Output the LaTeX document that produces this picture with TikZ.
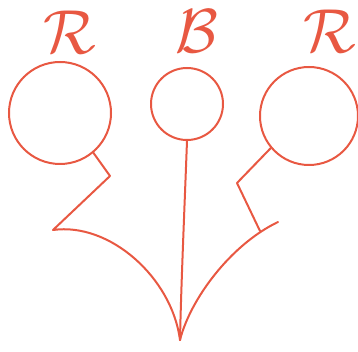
\documentclass[tikz,border=0pt]{standalone}
\usepackage{amsmath, amssymb}
\usepackage{xcolor}
\usetikzlibrary{positioning, calc}
\definecolor{inkred}{RGB}{232,88,66}

\begin{document}
\begin{tikzpicture}[
    x=1pt, y=-1pt,
    ball/.style={circle, draw=inkred, line width=2pt, inner sep=0pt},
    letter/.style={text=inkred, font=\Huge, scale=2.5, inner sep=0pt, anchor=base},
    stem/.style={draw=inkred, line width=2pt, line join=round, line cap=round},
]
\useasboundingbox (0,0) rectangle (358,352);

% Balls
\node[ball, minimum size=102pt] (lball) at (60,113) {};
\node[ball, minimum size=72pt] (mball) at (187,104) {};
\node[ball, minimum size=98pt] (rball) at (309,116) {};

% Letters
\node[letter] (lname) at (70,54) {$\mathcal{R}$};
\node[letter] (mname) at (197,53) {$\mathcal{B}$};
\node[letter] (rname) at (330,53) {$\mathcal{R}$};

% Joints and tip
\coordinate (lknee) at (110,176);
\coordinate (lend) at (53,230);
\coordinate (rknee) at (237,183);
\coordinate (rfoot) at (260,231);
\coordinate (rend) at (278,222);
\coordinate (tip) at (180,340);

% Left stem
\draw[stem] (lball.-50) -- (lknee) -- (lend)
    .. controls (110,222) and (172,278) .. (tip);
% Middle stem
\draw[stem] (mball.south) .. controls (184,220) and (181,290) .. (tip);
% Right stem
\draw[stem] (rball.-140) -- (rknee) -- (rfoot);
\draw[stem] (tip) .. controls (190,300) and (230,245) .. (rend);

\end{tikzpicture}
\end{document}
